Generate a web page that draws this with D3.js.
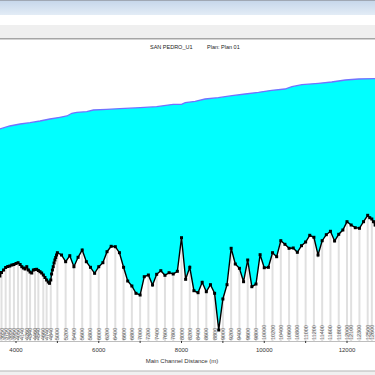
<!DOCTYPE html>
<html>
<head>
<meta charset="utf-8">
<script src="https://cdn.jsdelivr.net/npm/d3@7"></script>
<style>
  html, body { margin: 0; padding: 0; background: #fff; }
  text { font-family: "Liberation Sans", Arial, sans-serif; }
</style>
</head>
<body>
<div id="chart"></div>
<script>
var width = 375,
    height = 375;

// river stations (m) and ground elevation (m)
var stations = [3610, 3650, 3700, 3750, 3800, 3850, 3900, 3950, 4000, 4050, 4100, 4140, 4180, 4220,
  4260, 4300, 4340, 4380, 4420, 4460, 4500, 4540, 4580, 4620, 4660, 4700, 4740, 4780, 4810, 4840,
  4860, 4880, 4900, 4920, 4940, 4960, 4980, 5000, 5100, 5200, 5300, 5400, 5500, 5600, 5700, 5800,
  5900, 6000, 6100, 6200, 6300, 6400, 6500, 6600, 6700, 6800, 6900, 7000, 7100, 7200, 7300, 7400,
  7500, 7600, 7700, 7800, 7900, 8000, 8100, 8200, 8300, 8400, 8500, 8600, 8700, 8800, 8900, 9000,
  9100, 9200, 9300, 9400, 9500, 9600, 9700, 9800, 9900, 10000, 10100, 10200, 10300, 10400, 10500,
  10600, 10700, 10800, 10900, 11000, 11100, 11200, 11300, 11400, 11500, 11600, 11700, 11800, 11900,
  12000, 12100, 12200, 12300, 12400, 12500, 12550, 12600, 12640, 12680, 12720];
var groundElev = [2965, 2968.5, 2971, 2973.5, 2974.5, 2975, 2976, 2976.5, 2977.5, 2978.3, 2976.5, 2974.3, 2973, 2972,
  2974.3, 2971, 2969, 2968, 2971, 2971.5, 2971.7, 2970.5, 2969.3, 2968, 2966, 2963.5, 2961, 2959, 2957.7, 2961,
  2967, 2971, 2974.3, 2978, 2981, 2983.5, 2986, 2988.3, 2986, 2979.3, 2985.3, 2974.3, 2983.7, 2991, 2979.3, 2973.7,
  2967.7, 2974.3, 2978.3, 2989.3, 2994.7, 2994.3, 2988.3, 2973.7, 2960, 2955, 2947.7, 2946, 2964.3, 2966, 2956, 2966.7,
  2970.3, 2965.7, 2968.3, 2967, 2969.7, 3003.3, 2961.7, 2973.7, 2950.3, 2948.3, 2958.7, 2949.3, 2956.3, 2947.7, 2911, 2942,
  2956.3, 2992.7, 2977, 2972.7, 2959.3, 2981, 2954.3, 2957, 2986.3, 2973.3, 2973.7, 2988.3, 2984.3, 3000.3, 2996.7,
  2992.7, 2993, 2988.7, 2995.3, 2999, 3005.7, 3003.7, 2986, 3000.3, 3006.3, 3009.7, 3000, 3006.7, 3011,
  3019.3, 3016, 3013.3, 3012.7, 3019.3, 3025.7, 3023.3, 3022, 3019.3, 3016, 3009];

// water surface profile (m)
var wsStations = [3610, 3850, 4100, 4340, 4580, 4820, 5060, 5230, 5350, 5470, 5710, 5870, 6190, 6510,
  7000, 7400, 7800, 8000, 8090, 8330, 8570, 8890, 9220, 9540, 9860, 10180, 10500, 10670, 10910,
  11310, 11630, 11960, 12280, 12720];
var wsElev = [3112, 3115, 3117, 3118.3, 3120, 3122, 3123.7, 3125, 3127.7, 3128.7, 3129.3, 3131, 3131.7, 3132.3,
  3133.3, 3134.3, 3136.7, 3136.7, 3138.3, 3139.7, 3142, 3143.3, 3145.3, 3147, 3148.7, 3150.7, 3152, 3154.3, 3156.3,
  3157.7, 3159, 3161, 3162, 3162.5];

// cross sections that get a label and a station line
var labelStations = [3650, 3750, 3850, 3950, 4050, 4140, 4260, 4340, 4460, 4540, 4660, 4740, 4840,
  5000, 5200, 5400, 5600, 5800, 6000, 6200, 6400, 6600, 6800, 7000, 7200, 7400, 7600, 7800, 8000,
  8200, 8400, 8600, 8800, 9000, 9200, 9400, 9600, 9800, 10000, 10200, 10400, 10600, 10800, 11000,
  11200, 11400, 11600, 11800, 12000, 12100, 12300, 12500, 12600];

var majorTicks = [4000, 6000, 8000, 10000, 12000];
var minorTicks = [5000, 7000, 9000, 11000];

var title = "SAN PEDRO_U1",
    planTitle = "Plan: Plan 01",
    xTitle = "Main Channel Distance (m)";

var ground = stations.map(function(s, i) { return {s: s, z: groundElev[i]}; });
var ws = wsStations.map(function(s, i) { return {s: s, z: wsElev[i]}; });

var svg = d3.select("#chart").append("svg")
    .attr("width", width)
    .attr("height", height);

// window chrome
var defs = svg.append("defs");
var grad = defs.append("linearGradient").attr("id", "bar")
    .attr("x1", 0).attr("y1", 0).attr("x2", 0).attr("y2", 1);
grad.append("stop").attr("offset", "0%").attr("stop-color", "#c5d6ea");
grad.append("stop").attr("offset", "100%").attr("stop-color", "#e3ecf6");
svg.append("rect").attr("x", 0).attr("y", 0).attr("width", width).attr("height", 15).attr("fill", "url(#bar)");
svg.append("rect").attr("x", 0).attr("y", 0).attr("width", width).attr("height", 1).attr("fill", "#a0a8b4");
svg.append("rect").attr("x", 0).attr("y", 25).attr("width", width).attr("height", 13).attr("fill", "#efefef");
svg.append("rect").attr("x", 0).attr("y", 38).attr("width", width).attr("height", 1.5).attr("fill", "#a5a5a5");
svg.append("rect").attr("x", 0).attr("y", 371).attr("width", width).attr("height", 4).attr("fill", "#f0f0f0");
svg.append("rect").attr("x", 0).attr("y", 370.5).attr("width", width).attr("height", 1).attr("fill", "#b5b5b5");

var x = d3.scaleLinear().domain([4000, 12000]).range([16, 347]);
var y = d3.scaleLinear().domain([2900, 3200]).range([341, 41]);
var yBase = 341;

// water (cyan) from WS down, then ground covers it in white
var wsArea = d3.area().x(function(d) { return x(d.s); }).y0(yBase).y1(function(d) { return y(d.z); });
svg.append("path").datum(ws).attr("d", wsArea).attr("fill", "#00ffff");

var groundArea = d3.area().x(function(d) { return x(d.s); }).y0(yBase).y1(function(d) { return y(d.z); });
svg.append("path").datum(ground).attr("d", groundArea).attr("fill", "#ffffff");

// station lines
var zAt = {};
ground.forEach(function(d) { zAt[d.s] = d.z; });
svg.append("g").selectAll("line")
    .data(labelStations)
    .enter().append("line")
    .attr("x1", function(d) { return x(d); })
    .attr("x2", function(d) { return x(d); })
    .attr("y1", function(d) { return y(zAt[d]); })
    .attr("y2", yBase)
    .attr("stroke", "#e0e0e0")
    .attr("stroke-width", 2);

// station labels
svg.append("g").selectAll("text")
    .data(labelStations)
    .enter().append("text")
    .attr("transform", function(d) { return "translate(" + (x(d) + 2) + "," + (yBase - 1) + ") rotate(-90)"; })
    .attr("font-size", 5.5)
    .attr("fill", "#555")
    .text(function(d) { return d; });

// WS line
var line = d3.line().x(function(d) { return x(d.s); }).y(function(d) { return y(d.z); });
svg.append("path").datum(ws).attr("d", line)
    .attr("fill", "none").attr("stroke", "#7272ff").attr("stroke-width", 1.3);

// ground line and markers
svg.append("path").datum(ground).attr("d", line)
    .attr("fill", "none").attr("stroke", "#000").attr("stroke-width", 1.4);
svg.append("g").selectAll("rect")
    .data(ground)
    .enter().append("rect")
    .attr("x", function(d) { return x(d.s) - 1.5; })
    .attr("y", function(d) { return y(d.z) - 1.5; })
    .attr("width", 3)
    .attr("height", 3)
    .attr("fill", "#000");

// x axis
svg.append("line").attr("x1", 0).attr("x2", width).attr("y1", yBase + 0.5).attr("y2", yBase + 0.5)
    .attr("stroke", "#bdbdbd").attr("stroke-width", 1);
svg.append("g").selectAll("line")
    .data(majorTicks.concat(minorTicks))
    .enter().append("line")
    .attr("x1", function(d) { return x(d); })
    .attr("x2", function(d) { return x(d); })
    .attr("y1", yBase)
    .attr("y2", yBase + 2)
    .attr("stroke", "#333");
svg.append("g").selectAll("text")
    .data(majorTicks)
    .enter().append("text")
    .attr("x", function(d) { return x(d); })
    .attr("y", 351.5)
    .attr("text-anchor", "middle")
    .attr("font-size", 6)
    .attr("fill", "#333")
    .text(function(d) { return d; });

svg.append("text")
    .attr("x", 182).attr("y", 362.5)
    .attr("text-anchor", "middle")
    .attr("font-size", 6)
    .attr("fill", "#333")
    .text(xTitle);

svg.append("text")
    .attr("x", 150).attr("y", 49)
    .attr("font-size", 5.5)
    .attr("fill", "#222")
    .text(title);
svg.append("text")
    .attr("x", 207).attr("y", 49)
    .attr("font-size", 5.5)
    .attr("fill", "#222")
    .text(planTitle);
</script>
</body>
</html>
